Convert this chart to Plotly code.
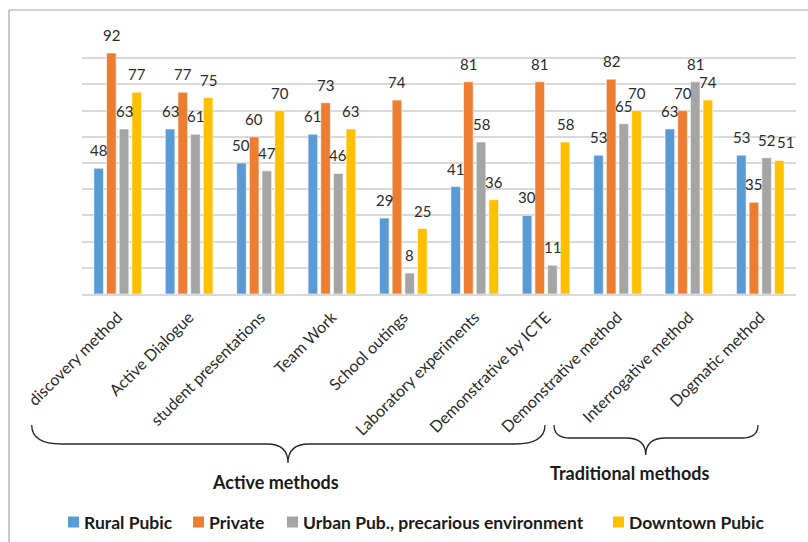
import plotly.graph_objects as go

# Teaching methods used, by type of school (percentages)
categories = [
    "discovery method", "Active Dialogue", "student presentations", "Team Work",
    "School outings", "Laboratory experiments", "Demonstrative by ICTE",
    "Demonstrative method", "Interrogative method", "Dogmatic method",
]
series_names = ["Rural Pubic", "Private", "Urban Pub., precarious environment", "Downtown Pubic"]
rural_pubic = [48, 63, 50, 61, 29, 41, 30, 53, 63, 53]
private = [92, 77, 60, 73, 74, 81, 81, 82, 70, 35]
urban_precarious = [63, 61, 47, 46, 8, 58, 11, 65, 81, 52]
downtown_pubic = [77, 75, 70, 63, 25, 36, 58, 70, 74, 51]
series_values = [rural_pubic, private, urban_precarious, downtown_pubic]
colors = ["#5B9BD5", "#ED7D31", "#A5A5A5", "#FFC000"]

group_labels = ["Active methods", "Traditional methods"]

FONT = "Lato, 'Open Sans', sans-serif"
W, H = 808, 542
ML, MR, MT, MB = 82, 12, 32, 248
BARGAP = 0.29
BARGROUPGAP = 0.24

fig = go.Figure()
for name, vals, col in zip(series_names, series_values, colors):
    fig.add_trace(go.Bar(
        x=categories, y=vals, name=name, showlegend=False,
        marker=dict(color=col, line=dict(color="white", width=0.6)),
    ))

# value labels above each bar, placed on the category index scale;
# a small sideways nudge keeps neighbouring labels from colliding
label_nudge = {(3, 9): 6}
slot = (1 - BARGAP) / len(series_values)
annotations = []
for j, vals in enumerate(series_values):
    off = (j - (len(series_values) - 1) / 2) * slot
    for i, v in enumerate(vals):
        annotations.append(dict(
            x=i + off, y=v, xref="x", yref="y", text=str(v), showarrow=False,
            yanchor="middle", yshift=18, xshift=label_nudge.get((j, i), 0),
            font=dict(family=FONT, size=15, color="#2b2b2b"),
        ))

pw, ph = W - ML - MR, H - MT - MB


def px(x):
    return (x - ML) / pw


def py(y):
    return (H - MB - y) / ph


def brace(x0, x1, xc, y_end, y_line, y_tip, r_end, r_tip):
    pts = [
        f"M {px(x0)},{py(y_end)}",
        f"Q {px(x0)},{py(y_line)} {px(x0 + r_end)},{py(y_line)}",
        f"L {px(xc - r_tip)},{py(y_line)}",
        f"Q {px(xc)},{py(y_line)} {px(xc)},{py(y_tip)}",
        f"Q {px(xc)},{py(y_line)} {px(xc + r_tip)},{py(y_line)}",
        f"L {px(x1 - r_end)},{py(y_line)}",
        f"Q {px(x1)},{py(y_line)} {px(x1)},{py(y_end)}",
    ]
    return dict(type="path", xref="paper", yref="paper", path=" ".join(pts),
                line=dict(color="#262626", width=1.3))


shapes = [
    brace(31.7, 545, 288, 425, 444, 463, 30, 21),
    brace(554, 758, 645.7, 425, 438, 455, 16, 20),
    # chart frame
    dict(type="line", xref="paper", yref="paper", x0=px(9), x1=px(W), y0=py(10), y1=py(10),
         line=dict(color="#A6A6A6", width=1.2)),
    dict(type="line", xref="paper", yref="paper", x0=px(9), x1=px(9), y0=py(10), y1=py(H),
         line=dict(color="#A6A6A6", width=1.2)),
]

for text, cx, cy in [(group_labels[0], 275, 482), (group_labels[1], 630, 473)]:
    annotations.append(dict(
        x=px(cx), y=py(cy), xref="paper", yref="paper", text=f"<b>{text}</b>",
        showarrow=False, xanchor="center", yanchor="middle",
        font=dict(family=FONT, size=18, color="#1a1a1a"),
    ))

# legend row: colour key square followed by the series name
legend_x = [68, 193, 287, 613]
legend_y = 522
key = 11
for name, col, lx in zip(series_names, colors, legend_x):
    shapes.append(dict(
        type="rect", xref="paper", yref="paper",
        x0=px(lx), x1=px(lx + key), y0=py(legend_y + key / 2), y1=py(legend_y - key / 2),
        fillcolor=col, line=dict(width=0),
    ))
    annotations.append(dict(
        x=px(lx + key + 3), y=py(legend_y), xref="paper", yref="paper",
        text=f"<b>{name}</b>", showarrow=False, xanchor="left", yanchor="middle",
        font=dict(family=FONT, size=17.5, color="#1a1a1a"),
    ))

fig.update_layout(
    width=W, height=H,
    margin=dict(l=ML, r=MR, t=MT, b=MB, autoexpand=False),
    paper_bgcolor="white", plot_bgcolor="white",
    barmode="group", bargap=BARGAP, bargroupgap=BARGROUPGAP,
    font=dict(family=FONT, color="#333333"),
    showlegend=False,
    xaxis=dict(
        tickangle=-45, tickfont=dict(family=FONT, size=16, color="#2b2b2b"),
        showline=True, linecolor="#D9D9D9", linewidth=1.5, ticks="",
        showgrid=False, automargin=False, ticklabelstandoff=6,
    ),
    yaxis=dict(
        range=[0, 100], dtick=10, showticklabels=False,
        showgrid=True, gridcolor="#D9D9D9", gridwidth=1.5,
        zeroline=False, showline=False, ticks="", automargin=False,
    ),
    shapes=shapes,
    annotations=annotations,
)

fig.write_html("out.html")
